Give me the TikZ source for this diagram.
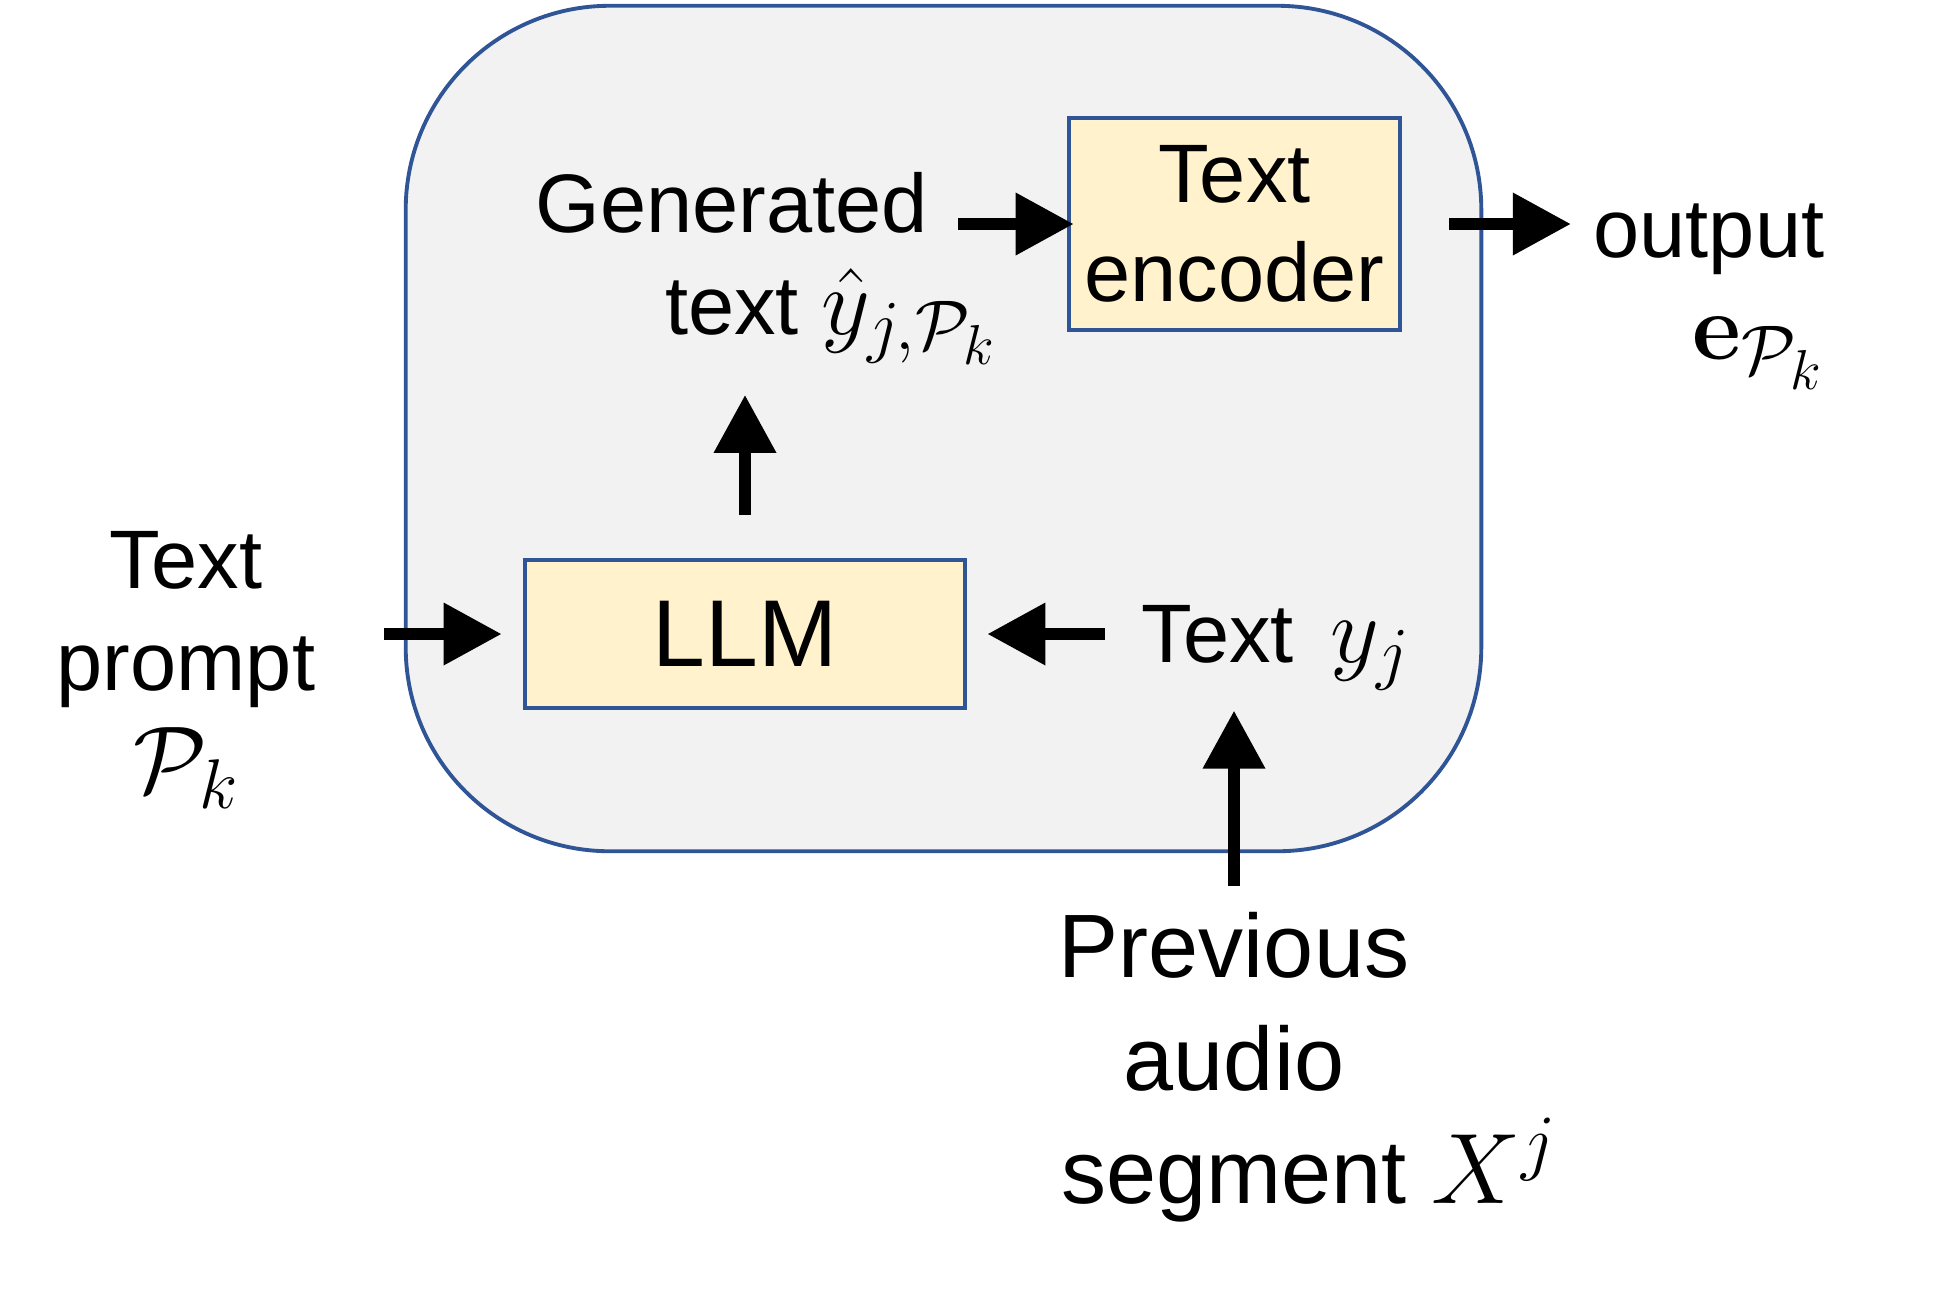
\RequirePackage{fix-cm}
\documentclass[tikz,border=0pt]{standalone}
\usepackage{amsmath}
\usepackage[no-math]{fontspec}
\setmainfont{Liberation Sans}
\usepackage{tikz}
\usetikzlibrary{arrows.meta, positioning, calc}
\DeclareMathSizes{23.6}{27}{20}{16}
\DeclareMathSizes{25.6}{28.5}{21}{17}
\definecolor{panelblue}{RGB}{47,85,151}
\definecolor{panelgray}{RGB}{242,242,242}
\definecolor{blockyellow}{RGB}{255,242,204}
\tikzset{%
   % big rounded container
   panel/.style={
      draw=panelblue,
      fill=panelgray,
      line width=1.1pt,
      rounded corners=2.04cm,
      minimum width=10.75cm,
      minimum height=8.45cm
   },
   block/.style={
      draw=panelblue,
      fill=blockyellow,
      line width=1.3pt,
      align=center,
      inner sep=0pt,
      font=\fontsize{23.6}{28.2}\selectfont
   },
   lbl/.style={
      inner sep=0pt,
      align=center,
      font=\fontsize{23.6}{29}\selectfont
   },
   fat/.style={
      line width=3.2pt,
      -{Triangle[length=16.5pt, width=17pt]}
   },
}

\begin{document}
\begin{tikzpicture}[x=0.01cm, y=-0.01cm]
  \useasboundingbox (0,0) rectangle (1940,1293);
  \node[panel] (panel) at (943.5,428.5) {};
  \node[block, minimum width=3.31cm, minimum height=2.12cm] (enc) at (1234.5,224) {Text\\encoder};
  \node[block, minimum width=4.40cm, minimum height=1.48cm,
        font=\fontsize{27}{32}\selectfont] (llm) at (745,634) {LLM};
  % base anchor of a multi-line node sits on its last line
  \node[lbl, anchor=base] (gen) at (732,334)
       {Generated\\text\rlap{ $\hat{y}_{j,\mathcal{P}_k}$}};
  \node[lbl, anchor=base] (prompt) at (186,792) {Text\\prompt\\$\mathcal{P}_k$};
  \node[lbl, anchor=base west] (yj) at (1141,662) {Text\ \,$y_j$};
  \node[lbl, anchor=base east, align=right] (output) at (1825,359)
       {output\\$\mathbf{e}_{\mathcal{P}_k}$};
  \node[lbl, anchor=base, font=\fontsize{25.6}{32}\selectfont] (prev) at (1234,1203)
       {Previous\\audio\\segment\rlap{ $X^j$}};

  \draw[fat, shorten <=.68cm, shorten >=.21cm] (prompt.east |- llm.west) -- (llm.west);
  \draw[fat, shorten <=.36cm, shorten >=.2cm] (yj.west |- llm.east) -- (llm.east);
  \draw[fat, shorten <=.43cm, shorten >=.3cm] (llm.north) -- (llm.north |- gen.south);
  \draw[fat, shorten <=.29cm, shorten >=-.07cm] (gen.east |- enc.west) -- (enc.west);
  \draw[fat, shorten <=.47cm, shorten >=.22cm] (enc.east) -- (enc.east -| output.west);
  \draw[fat, shorten <=.26cm, shorten >=.2cm] (prev.north) -- (prev.north |- yj.south);
\end{tikzpicture}
\end{document}
